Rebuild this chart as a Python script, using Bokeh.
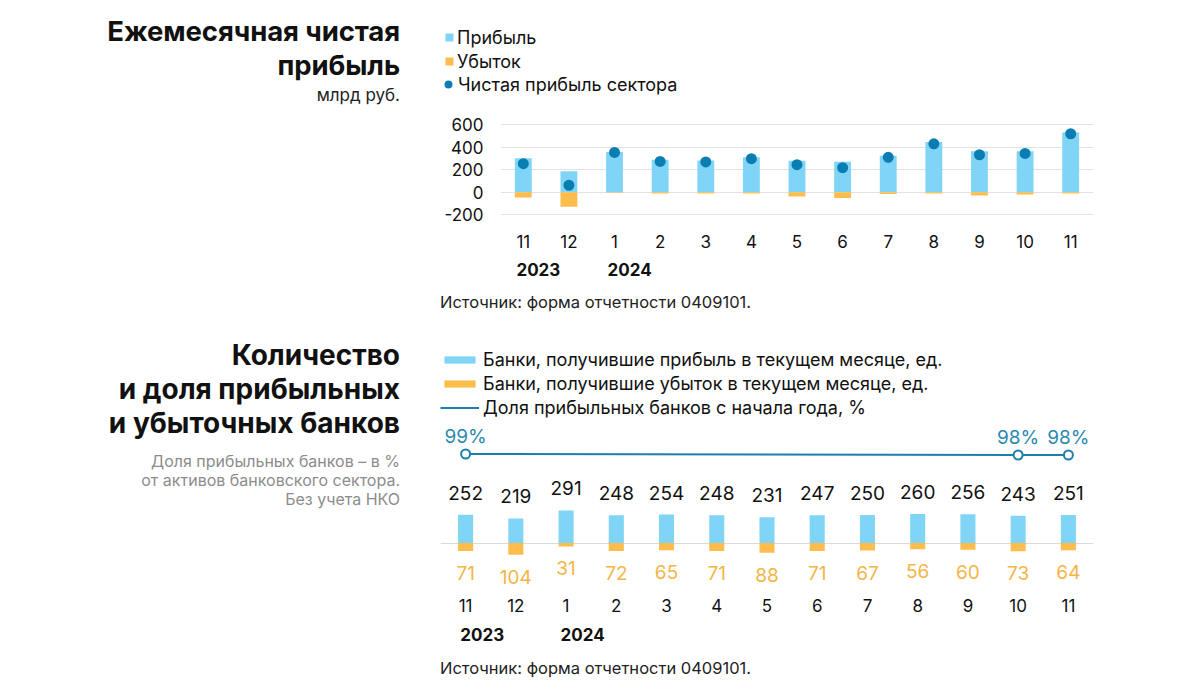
from bokeh.plotting import figure
from bokeh.models import (Range1d, LinearAxis, FixedTicker, Grid, Legend, LegendItem,
                          Div, ColumnDataSource, Spacer)
from bokeh.layouts import column, row
from bokeh.core.properties import value
from bokeh.embed import file_html
from bokeh.resources import INLINE

# ---------------- data ----------------
months = ["11", "12", "1", "2", "3", "4", "5", "6", "7", "8", "9", "10", "11"]
years = ["2023", "2024"]
year_idx = [0, 2]

# chart 1: monthly net profit, bn rub
profit = [300, 185, 356, 288, 282, 309, 279, 271, 324, 444, 362, 362, 529]
loss = [-47, -129, -4, -12, -12, -12, -38, -50, -15, -12, -29, -20, -12]
net = [253, 62, 353, 273, 268, 297, 244, 218, 309, 429, 332, 344, 518]
y_ticks1 = [-200, 0, 200, 400, 600]

# chart 2: number of profitable / loss-making banks
banks_profit = [252, 219, 291, 248, 254, 248, 231, 247, 250, 260, 256, 243, 251]
banks_loss = [71, 104, 31, 72, 65, 71, 88, 71, 67, 56, 60, 73, 64]
share_idx = [0, 11, 12]
share_pct = [99, 98, 98]

FONT = "Inter"
C_PROFIT = "#80d5f7"
C_LOSS = "#fdbd4c"
C_LOSS_TXT = "#f4b548"
C_DOT = "#0a7db2"
C_LINE = "#1c7fab"
C_PCT = "#2b89b0"
C_GRID = "#e2e2e2"
YEAR_SHIFT = 0.33  # year captions sit a little right of their month tick

idx = list(range(len(months)))


def style_fig(p):
    p.outline_line_color = None
    p.background_fill_color = "white"
    p.border_fill_color = "white"
    p.xgrid.visible = False
    p.ygrid.visible = False


def add_month_axes(p, so1, so2):
    ax = LinearAxis(ticker=FixedTicker(ticks=idx),
                    major_label_overrides={i: m for i, m in zip(idx, months)})
    ypos = [i + YEAR_SHIFT for i in year_idx]
    ay = LinearAxis(ticker=FixedTicker(ticks=ypos),
                    major_label_overrides={t: y for t, y in zip(ypos, years)})
    for a in (ax, ay):
        a.axis_line_color = None
        a.major_tick_line_color = None
        a.minor_tick_line_color = None
        a.major_tick_out = 0
        a.major_tick_in = 0
        a.major_label_text_font = FONT
        a.major_label_text_font_size = "17px"
        a.major_label_text_color = "#111111"
    ax.major_label_standoff = so1
    ay.major_label_standoff = so2
    ay.major_label_text_font_style = "bold"
    p.add_layout(ax, "below")
    p.add_layout(ay, "below")


def legend(items, loc, gw, gh, standoff):
    return Legend(items=items, location=loc, glyph_width=gw, glyph_height=gh,
                  label_height=22, spacing=2, padding=0, margin=0, label_standoff=standoff,
                  label_text_font=FONT, label_text_font_size="18px",
                  label_text_color="#111111", border_line_color=None,
                  background_fill_alpha=0)


# ---------------- chart 1 ----------------
src1 = ColumnDataSource(dict(x=idx, profit=profit, loss=loss, net=net))
p1 = figure(width=680, height=182, output_backend="svg", toolbar_location=None,
            x_axis_location=None, y_axis_location=None,
            x_range=Range1d(-0.5, 12.5), y_range=Range1d(-268, 724),
            min_border_left=70, min_border_right=17, min_border_top=2, min_border_bottom=68)
style_fig(p1)
p1.add_layout(Grid(dimension=1, ticker=FixedTicker(ticks=y_ticks1),
                   grid_line_color=C_GRID, grid_line_width=1))
p1.vbar(x="x", top="profit", bottom=0, width=0.37, source=src1,
        fill_color=C_PROFIT, line_color=None)
p1.vbar(x="x", top=0, bottom="loss", width=0.37, source=src1,
        fill_color=C_LOSS, line_color=None)
p1.scatter(x="x", y="net", size=11, source=src1, fill_color=C_DOT, line_color=None)

yax = LinearAxis(ticker=FixedTicker(ticks=y_ticks1),
                 major_label_overrides={t: str(t) for t in y_ticks1})
yax.axis_line_color = None
yax.major_tick_line_color = None
yax.minor_tick_line_color = None
yax.major_tick_out = 0
yax.major_label_standoff = 17
yax.major_label_text_font = FONT
yax.major_label_text_font_size = "17px"
yax.major_label_text_color = "#111111"
p1.add_layout(yax, "left")
add_month_axes(p1, 12, 12)

# legend panel of chart 1 (same glyph styles, nothing of the series in view)
pl = figure(width=680, height=100, output_backend="svg", toolbar_location=None,
            x_axis_location=None, y_axis_location=None,
            x_range=Range1d(-0.5, 12.5), y_range=Range1d(100000, 100001),
            min_border_left=0, min_border_right=0, min_border_top=0, min_border_bottom=0)
style_fig(pl)
l_profit = pl.vbar(x="x", top="profit", bottom=0, width=0.37, source=src1,
                   fill_color=C_PROFIT, line_color=None)
l_loss = pl.vbar(x="x", top=0, bottom="loss", width=0.37, source=src1,
                 fill_color=C_LOSS, line_color=None)
l_net = pl.scatter(x="x", y="net", size=11, source=src1, fill_color=C_DOT, line_color=None)
pl.add_layout(legend([LegendItem(label="Прибыль", renderers=[l_profit]),
                      LegendItem(label="Убыток", renderers=[l_loss])],
                     (14, 36), 10, 10, 3))
pl.add_layout(legend([LegendItem(label="Чистая прибыль сектора", renderers=[l_net])],
                     (8, 13), 20, 20, -4))

# ---------------- chart 2 ----------------
src2 = ColumnDataSource(dict(x=idx, bp=banks_profit, bl=[-v for v in banks_loss],
                             bp_txt=[str(v) for v in banks_profit],
                             bl_txt=[str(v) for v in banks_loss]))
src3 = ColumnDataSource(dict(x=share_idx, pct=share_pct,
                             pct_txt=[f"{v}%" for v in share_pct]))
p2 = figure(width=680, height=335, output_backend="svg", toolbar_location=None,
            x_axis_location=None, y_axis_location=None,
            x_range=Range1d(-0.5, 12.5), y_range=Range1d(-424, 1897),
            min_border_left=10, min_border_right=17, min_border_top=10, min_border_bottom=65)
style_fig(p2)
p2.extra_y_ranges = {"pct": Range1d(-37.5, 222.5)}
p2.add_layout(Grid(dimension=1, ticker=FixedTicker(ticks=[0]),
                   grid_line_color="#dadada", grid_line_width=1))
r_bp = p2.vbar(x="x", top="bp", bottom=0, width=0.3, source=src2,
               fill_color=C_PROFIT, line_color=None)
r_bl = p2.vbar(x="x", top=0, bottom="bl", width=0.3, source=src2,
               fill_color=C_LOSS, line_color=None)
p2.text(x="x", y="bp", text="bp_txt", source=src2, text_font=value(FONT),
        text_font_size="19px", text_color="#111111", text_align="center",
        text_baseline="middle", y_offset=-22)
p2.text(x="x", y="bl", text="bl_txt", source=src2, text_font=value(FONT),
        text_font_size="19px", text_color=C_LOSS_TXT, text_align="center",
        text_baseline="middle", y_offset=22)
r_line = p2.line(x="x", y="pct", source=src3, y_range_name="pct",
                 line_color=C_LINE, line_width=2)
p2.scatter(x="x", y="pct", source=src3, y_range_name="pct", size=9,
           fill_color="white", line_color=C_LINE, line_width=2)
p2.text(x="x", y="pct", text="pct_txt", source=src3, y_range_name="pct",
        text_font=value(FONT), text_font_size="19px", text_color=C_PCT,
        text_align="center", text_baseline="middle", y_offset=-18)
add_month_axes(p2, 8, 13)

p2.add_layout(legend([LegendItem(label="Банки, получившие прибыль в текущем месяце, ед.", renderers=[r_bp]),
                      LegendItem(label="Банки, получившие убыток в текущем месяце, ед.", renderers=[r_bl]),
                      LegendItem(label="Доля прибыльных банков с начала года, %", renderers=[r_line])],
                     (0, 172), 39, 9, 4))

# ---------------- text blocks ----------------
title1 = Div(width=430, height=100, margin=0, text=(
    '<div style="width:400px;text-align:right;font-family:Inter,sans-serif;color:#111;">'
    '<div style="font-size:27.5px;font-weight:700;line-height:34px;margin-top:6px;letter-spacing:-0.1px;">'
    'Ежемесячная чистая<br>прибыль</div>'
    '<div style="font-size:17px;line-height:20px;margin-top:3px;color:#222;">млрд руб.</div>'
    '</div>'))
gap1 = Spacer(width=430, height=182, margin=0)
source1 = Div(width=1100, height=30, margin=0, text=(
    '<div style="padding-left:440px;font-family:Inter,sans-serif;font-size:16.5px;'
    'line-height:24px;color:#222;">Источник: форма отчетности 0409101.</div>'))
title2 = Div(width=430, height=335, margin=0, text=(
    '<div style="width:400px;text-align:right;font-family:Inter,sans-serif;color:#111;">'
    '<div style="font-size:28px;font-weight:700;line-height:34px;margin-top:18px;">'
    'Количество<br>и доля прибыльных<br>и убыточных банков</div>'
    '<div style="font-size:16px;line-height:19px;margin-top:12px;color:#8c8c8c;">'
    'Доля прибыльных банков – в %<br>от активов банковского сектора.<br>Без учета НКО</div>'
    '</div>'))
source2 = Div(width=1100, height=25, margin=0, text=(
    '<div style="padding-left:440px;padding-top:1px;font-family:Inter,sans-serif;font-size:16.5px;'
    'line-height:24px;color:#222;">Источник: форма отчетности 0409101.</div>'))

layout = column(Spacer(width=10, height=8, margin=0),
                row(title1, pl, spacing=0),
                row(gap1, p1, spacing=0),
                source1,
                row(title2, p2, spacing=0),
                source2, spacing=0)

open("out.html", "w").write(file_html(layout, INLINE))
